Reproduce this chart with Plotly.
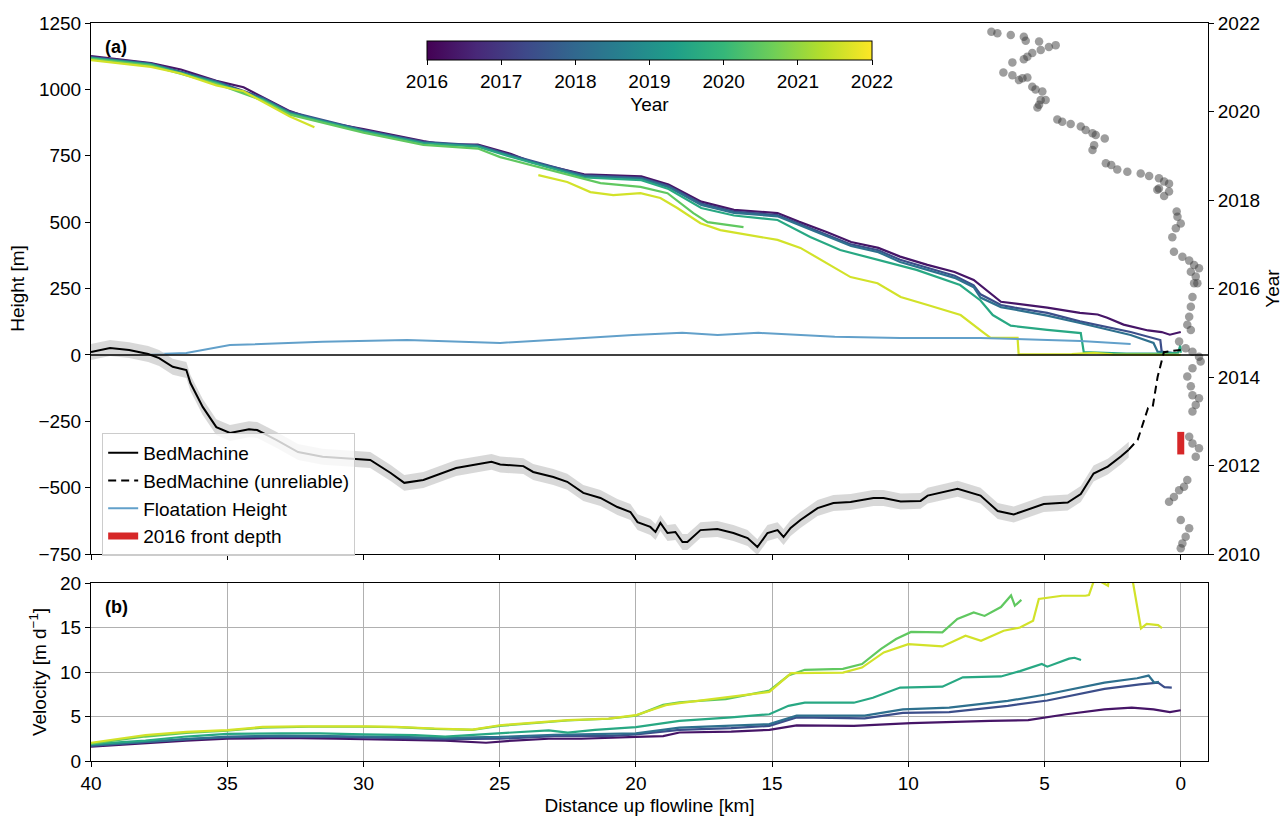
import numpy as np
import plotly.graph_objects as go
from plotly.colors import sample_colorscale

FONT = "Liberation Sans, Arial, sans-serif"
FS = 19

# ---------------- data ----------------
line_years = [2016.35, 2017.45, 2018.2, 2019.6, 2020.5, 2021.6]

# surface height profiles (distance km, height m)
h2016_x = [40.0, 37.8, 36.7, 35.4, 34.4, 33.7, 32.7, 31.7, 30.0, 27.8, 27.1, 25.8, 24.6, 23.8, 21.9, 19.8, 18.8, 17.6, 16.4, 14.8, 14.0, 13.0, 12.1, 11.1, 10.3, 9.3, 8.3, 7.6, 7.1, 6.6, 4.9, 3.7, 3.05, 2.7, 2.1, 1.6, 1.2, 0.7, 0.4, 0.0]
h2016_y = [1125, 1099, 1075, 1032, 1008, 972, 918, 882, 850, 805, 793, 792, 757, 725, 680, 672, 642, 577, 546, 534, 501, 463, 425, 403, 370, 339, 312, 282, 240, 200, 178, 158, 152, 140, 114, 101, 92, 86, 76, 86]

h2017_x = [40.0, 37.8, 35.4, 33.7, 32.7, 30.0, 27.8, 25.8, 24.6, 21.9, 19.8, 18.8, 17.6, 16.4, 14.8, 14.0, 13.0, 12.1, 11.1, 10.3, 9.3, 8.3, 7.6, 7.35, 6.6, 6.1, 4.9, 3.7, 1.84, 0.75, 0.7, 0.3]
h2017_y = [1122, 1097, 1030, 968, 915, 847, 802, 789, 753, 676, 667, 636, 570, 540, 527, 494, 455, 416, 394, 358, 328, 298, 262, 228, 188, 178, 158, 126, 86, 56, 12, 6]

h2018_x = [40.0, 37.8, 35.4, 33.7, 32.7, 30.0, 27.8, 25.8, 24.6, 21.9, 19.8, 18.8, 17.6, 16.4, 14.8, 14.0, 13.0, 12.1, 11.1, 10.3, 9.3, 8.3, 7.6, 7.35, 6.6, 6.1, 4.9, 3.7, 1.84, 1.0, 0.85, 0.3]
h2018_y = [1120, 1095, 1028, 965, 912, 845, 800, 787, 750, 673, 664, 632, 565, 535, 522, 488, 448, 410, 387, 350, 320, 290, 255, 216, 180, 170, 148, 120, 75, 45, 12, 8]

h2019_x = [40.0, 37.8, 35.4, 33.7, 32.7, 30.0, 27.8, 25.8, 24.6, 21.9, 19.8, 18.8, 17.6, 16.4, 14.8, 13.6, 12.5, 10.8, 9.7, 8.1, 7.35, 6.9, 6.24, 4.9, 4.15, 3.67, 3.56, 2.0, 0.5, 0.1, 0.02, 0.0]
h2019_y = [1118, 1093, 1025, 962, 909, 842, 797, 784, 746, 668, 658, 625, 553, 525, 508, 444, 395, 350, 320, 263, 205, 150, 110, 94, 86, 82, 10, 5, 6, 8, 35, 8]

h2020_x = [40.0, 37.8, 35.4, 33.7, 32.7, 30.0, 27.8, 25.8, 24.98, 21.3, 19.83, 18.84, 17.89, 17.37, 16.05]
h2020_y = [1115, 1090, 1021, 958, 905, 837, 791, 777, 745, 647, 633, 609, 534, 500, 481]

h2021_x = [40.0, 37.8, 36.7, 35.4, 34.4, 33.7, 32.7, 31.8, None, 23.58, 22.52, 21.67, 20.83, 19.83, 19.10, 18.48, 17.63, 16.9, 14.8, 13.96, 12.75, 12.12, 11.13, 10.28, 9.29, 8.08, 7.24, 6.98, 5.99, 5.95, 4.0, 3.2, 2.5, 1.0, 0.0]
h2021_y = [1110, 1085, 1060, 1015, 993, 955, 898, 857, None, 677, 651, 613, 602, 609, 591, 553, 496, 470, 433, 403, 331, 293, 270, 218, 188, 150, 84, 64, 64, 2, 3, 8, 2, 1, 0]

# floatation height
flot_x = [37.8, 36.5, 34.9, 32.7, 31.5, 28.4, 25.3, 24.98, 22.5, 20.1, 18.3, 17.0, 15.5, 14.0, 12.7, 10.3, 7.35, 4.89, 3.67, 1.84]
flot_y = [2, 7, 37, 45, 49, 56, 45, 45, 60, 75, 83, 75, 83, 75, 68, 64, 64, 56, 52, 41]

# BedMachine bed elevation
bed_x = [40.0, 39.3, 38.6, 37.9, 37.5, 37.0, 36.5, 36.35, 35.9, 35.4, 34.9, 34.2, 33.9, 33.2, 32.4, 31.5, 29.75, 29.0, 28.5, 27.8, 26.6, 25.3, 24.98, 24.13, 23.77, 23.03, 22.52, 21.93, 21.30, 20.68, 20.20, 19.94, 19.47, 19.28, 19.10, 18.84, 18.55, 18.29, 18.11, 17.63, 17.01, 16.42, 15.90, 15.54, 15.17, 14.80, 14.58, 14.32, 13.96, 13.33, 12.75, 12.12, 11.28, 10.91, 10.28, 9.55, 9.29, 8.19, 7.35, 6.72, 6.13, 5.40, 5.03, 4.15, 3.67, 3.20, 2.68, 2.20, 1.91]
bed_y = [11, 26, 18, 3, -12, -45, -57, -106, -196, -272, -294, -280, -283, -320, -366, -384, -396, -445, -482, -471, -426, -403, -413, -419, -441, -460, -478, -520, -539, -573, -592, -630, -648, -667, -633, -671, -667, -705, -705, -660, -656, -671, -690, -724, -671, -660, -686, -652, -622, -577, -558, -554, -539, -539, -552, -550, -530, -504, -530, -588, -601, -575, -562, -556, -524, -447, -421, -383, -357]
bed_unc = 30

bed_unrel_x = [1.91, 1.58, 1.2, 1.03, 0.85, 0.62, 0.3, 0.0]
bed_unrel_y = [-357, -320, -200, -196, -83, 10, 15, 18]

front2016_x = [0.0, 0.0]
front2016_y = [-290, -375]

# terminus position through time (distance km, year)
front_dist = [6.95, 6.73, 6.24, 5.76, 5.69, 5.20, 5.14, 4.84, 4.59, 5.45, 5.63, 5.76, 6.18, 6.51, 6.18, 5.94, 5.81, 5.63, 5.45, 5.33, 5.08, 5.14, 4.96, 5.20, 5.26,
              4.53, 4.35, 4.04, 3.67, 3.49, 3.24, 3.12, 2.79, 3.18, 3.24, 2.75, 2.55, 2.33, 1.96, 1.47, 1.16, 0.80, 0.61, 0.43, 0.80, 0.86, 0.43, 0.61,
              0.15, 0.12, 0.0, 0.18, 0.31, 0.25, -0.06, -0.31, -0.49, -0.67, -0.37, -0.55, -0.61,
              -0.49, -0.43, -0.37, -0.31, -0.24, -0.37, 0.06, -0.18, -0.43, -0.67, -0.73, -0.43, -0.24, -0.37, -0.43, -0.67, -0.55, -0.43,
              -0.31, -0.43, -0.67, -0.55, -0.24, -0.12, 0.06, 0.25, 0.43, 0.0, -0.31, -0.18, -0.06, 0.0]
front_year = [2021.80, 2021.77, 2021.73, 2021.69, 2021.60, 2021.58, 2021.39, 2021.46, 2021.50, 2021.32, 2021.24, 2021.18, 2021.11, 2020.88, 2020.82, 2020.71, 2020.75, 2020.77, 2020.56, 2020.50, 2020.45, 2020.26, 2020.26, 2020.15, 2020.09,
              2019.82, 2019.77, 2019.72, 2019.66, 2019.58, 2019.51, 2019.47, 2019.39, 2019.24, 2019.13, 2018.83, 2018.79, 2018.69, 2018.64, 2018.60, 2018.54, 2018.49, 2018.42, 2018.37, 2018.26, 2018.23, 2018.19, 2018.09,
              2017.74, 2017.62, 2017.47, 2017.36, 2017.16, 2016.83, 2016.72, 2016.63, 2016.53, 2016.46, 2016.38, 2016.27, 2016.12,
              2016.12, 2015.81, 2015.59, 2015.36, 2015.18, 2015.06, 2014.80, 2014.65, 2014.57, 2014.46, 2014.35, 2014.20, 2014.01, 2013.79, 2013.59, 2013.52, 2013.37, 2013.22,
              2012.65, 2012.50, 2012.39, 2012.20, 2011.67, 2011.52, 2011.44, 2011.29, 2011.18, 2010.77, 2010.58, 2010.39, 2010.24, 2010.13]

# velocity profiles (distance km, m/d)
v2016_x = [40.0, 38.0, 36.5, 35.0, 33.0, 31.0, 28.8, 27.0, 25.5, 24.5, 23.2, 22.0, 20.0, 19.0, 18.4, 16.5, 15.1, 14.1, 12.0, 9.9, 7.0, 5.6, 4.2, 2.8, 1.8, 1.0, 0.4, 0.0]
v2016_y = [1.6, 2.0, 2.3, 2.5, 2.6, 2.5, 2.35, 2.3, 2.05, 2.3, 2.5, 2.5, 2.7, 2.8, 3.2, 3.3, 3.5, 4.0, 3.95, 4.25, 4.5, 4.6, 5.25, 5.8, 6.0, 5.8, 5.5, 5.7]

v2017_x = [40.0, 38.0, 36.5, 35.0, 33.0, 31.0, 28.8, 27.0, 25.0, 23.0, 21.0, 20.0, 18.4, 16.5, 15.1, 14.1, 11.6, 10.2, 8.5, 6.35, 4.9, 2.8, 1.5, 0.83, 0.6, 0.33]
v2017_y = [1.7, 2.1, 2.45, 2.65, 2.75, 2.7, 2.55, 2.45, 2.5, 2.8, 2.8, 3.0, 3.5, 3.7, 3.95, 4.9, 4.8, 5.4, 5.5, 6.2, 6.8, 8.1, 8.6, 8.8, 8.3, 8.25]

v2018_x = [40.0, 38.0, 36.5, 35.0, 33.0, 31.0, 28.8, 27.0, 25.0, 23.0, 21.0, 20.0, 18.4, 16.5, 15.1, 14.1, 11.6, 10.2, 8.5, 6.35, 4.9, 2.8, 1.6, 1.18, 0.97, 0.8]
v2018_y = [1.75, 2.15, 2.5, 2.75, 2.85, 2.8, 2.7, 2.6, 2.7, 2.95, 3.0, 3.1, 3.75, 3.95, 4.15, 5.1, 5.1, 5.8, 6.0, 6.75, 7.5, 8.8, 9.3, 9.6, 8.8, 8.9]

v2019_x = [40.0, 38.0, 36.5, 35.0, 33.0, 31.6, 30.0, 28.1, 27.0, 25.0, 23.2, 22.5, 21.5, 20.0, 18.4, 16.5, 15.1, 14.4, 13.8, 12.0, 11.3, 10.3, 8.75, 8.0, 6.6, 5.9, 5.1, 4.9, 4.1, 3.9, 3.66]
v2019_y = [1.9, 2.3, 2.75, 3.05, 3.1, 3.1, 3.0, 2.9, 2.75, 3.1, 3.45, 3.2, 3.5, 3.8, 4.5, 4.9, 5.25, 6.2, 6.55, 6.55, 7.1, 8.25, 8.35, 9.4, 9.5, 10.1, 10.9, 10.6, 11.5, 11.6, 11.35]

v2020_x = [40.0, 38.0, 36.5, 35.0, 33.7, 32.0, 30.0, 28.8, 27.4, 26.0, 25.0, 23.9, 22.5, 21.0, 20.0, 19.0, 18.4, 16.7, 15.1, 14.4, 13.8, 12.4, 11.7, 11.0, 10.45, 9.9, 8.75, 8.2, 7.6, 7.2, 6.6, 6.23, 6.09, 5.85]
v2020_y = [1.95, 2.75, 3.15, 3.4, 3.75, 3.85, 3.85, 3.8, 3.6, 3.5, 3.95, 4.25, 4.55, 4.75, 5.1, 6.3, 6.6, 6.95, 7.9, 9.6, 10.25, 10.35, 10.9, 12.6, 13.7, 14.5, 14.45, 15.95, 16.7, 16.3, 17.3, 18.6, 17.45, 18.1]

v2021_x = [40.0, 38.0, 36.5, 35.0, 33.7, 32.3, 29.9, 28.8, 27.4, 26.0, 25.0, 23.9, 22.5, 21.0, 20.0, 18.9, 18.4, 15.1, 14.3, 12.4, 11.7, 10.9, 10.0, 8.75, 7.9, 7.33, 6.5, 5.9, 5.42, 5.21, 4.36, 3.5, 3.37, 3.16, 2.9, 2.67, 2.6, 1.9, 1.75, 1.46, 1.25, 0.83, 0.69]
v2021_y = [2.05, 2.9, 3.27, 3.46, 3.83, 3.9, 3.9, 3.83, 3.65, 3.53, 4.02, 4.29, 4.59, 4.77, 5.15, 6.28, 6.5, 7.77, 9.87, 9.94, 10.5, 12.2, 13.13, 12.87, 14.07, 13.5, 14.63, 15.0, 15.76, 18.2, 18.57, 18.57, 18.65, 20.5, 20.1, 19.7, 21.5, 22.0, 20.0, 14.9, 15.4, 15.27, 14.93]

x_ticks = [40, 35, 30, 25, 20, 15, 10, 5, 0]
h_ticks = [-750, -500, -250, 0, 250, 500, 750, 1000, 1250]
yr_ticks = [2010, 2012, 2014, 2016, 2018, 2020, 2022]
v_ticks = [0, 5, 10, 15, 20]
cb_ticks = [2016, 2017, 2018, 2019, 2020, 2021, 2022]

# ---------------- figure ----------------
colors = sample_colorscale("Viridis", [(y - 2016) / 6 for y in line_years])

fig = go.Figure()

height_sets = [(h2016_x, h2016_y), (h2017_x, h2017_y), (h2018_x, h2018_y),
               (h2019_x, h2019_y), (h2020_x, h2020_y), (h2021_x, h2021_y)]
vel_sets = [(v2016_x, v2016_y), (v2017_x, v2017_y), (v2018_x, v2018_y),
            (v2019_x, v2019_y), (v2020_x, v2020_y), (v2021_x, v2021_y)]

for (hx, hy), c in zip(height_sets, colors):
    fig.add_trace(go.Scatter(x=hx, y=hy, mode="lines", line=dict(color=c, width=2.2),
                             showlegend=False, hoverinfo="skip", xaxis="x", yaxis="y"))

fig.add_trace(go.Scatter(x=flot_x, y=flot_y, mode="lines", name="Floatation Height",
                         line=dict(color="#62a0ca", width=2), legendrank=3,
                         xaxis="x", yaxis="y"))

bed_hi = [b + bed_unc for b in bed_y]
bed_lo = [b - bed_unc for b in bed_y]
fig.add_trace(go.Scatter(x=bed_x + bed_x[::-1], y=bed_hi + bed_lo[::-1], mode="lines",
                         fill="toself", fillcolor="rgba(200,200,200,0.7)",
                         line=dict(width=0, color="rgba(0,0,0,0)"),
                         showlegend=False, hoverinfo="skip", xaxis="x", yaxis="y"))
fig.add_trace(go.Scatter(x=bed_x, y=bed_y, mode="lines", name="BedMachine",
                         line=dict(color="black", width=2), legendrank=1,
                         xaxis="x", yaxis="y"))
fig.add_trace(go.Scatter(x=bed_unrel_x, y=bed_unrel_y, mode="lines",
                         name="BedMachine (unreliable)",
                         line=dict(color="black", width=2, dash="8px,5px"), legendrank=2,
                         xaxis="x", yaxis="y"))
fig.add_trace(go.Scatter(x=front2016_x, y=front2016_y, mode="lines", name="2016 front depth",
                         line=dict(color="#d62728", width=7), legendrank=4,
                         xaxis="x", yaxis="y"))

# colorbar carrier (outside visible range)
fig.add_trace(go.Scatter(x=[20], y=[-5000], mode="markers", showlegend=False, hoverinfo="skip",
                         marker=dict(size=1, color=[2016], colorscale="Viridis", cmin=2016, cmax=2022,
                                     showscale=True,
                                     colorbar=dict(orientation="h", x=(649.5 - 91) / 1117, xanchor="center",
                                                   y=(761 - 41) / 738, yanchor="top",
                                                   len=445, lenmode="pixels",
                                                   thickness=19, thicknessmode="pixels",
                                                   outlinewidth=1, outlinecolor="black",
                                                   tickvals=cb_ticks, ticks="outside", ticklen=5,
                                                   tickcolor="black",
                                                   tickfont=dict(size=FS, color="black", family=FONT),
                                                   title=dict(text="Year", side="bottom",
                                                              font=dict(size=FS, color="black", family=FONT)),
                                                   xpad=0, ypad=0)),
                         xaxis="x", yaxis="y"))

# terminus positions on twin axis
fig.add_trace(go.Scatter(x=front_dist, y=front_year, mode="markers", showlegend=False,
                         marker=dict(size=8.5, color="rgba(60,60,60,0.5)", line=dict(width=0)),
                         hoverinfo="skip", xaxis="x", yaxis="y3"))

for (vx, vy), c in zip(vel_sets, colors):
    fig.add_trace(go.Scatter(x=vx, y=vy, mode="lines", line=dict(color=c, width=2.2),
                             showlegend=False, hoverinfo="skip", xaxis="x2", yaxis="y2"))

top_lo = (761 - 554) / 738
bot_hi = (761 - 583) / 738

axis_common = dict(showline=True, linecolor="black", linewidth=1, ticks="outside", ticklen=5,
                   tickwidth=1, tickcolor="black", zeroline=False, automargin=False,
                   tickfont=dict(size=FS, color="black", family=FONT))

minus = lambda v: str(v).replace("-", "\u2212")

fig.update_layout(
    width=1283, height=816,
    margin=dict(l=91, r=75, t=23, b=55, autoexpand=False),
    paper_bgcolor="white", plot_bgcolor="white",
    font=dict(family=FONT, size=FS, color="black"),
    xaxis=dict(domain=[0, 1], anchor="y", range=[40, -1], tickvals=x_ticks, showticklabels=False,
               mirror=True, showgrid=False, **axis_common),
    yaxis=dict(domain=[top_lo, 1], anchor="x", range=[-750, 1250], tickvals=h_ticks,
               ticktext=[minus(v) for v in h_ticks], showgrid=False,
               title=dict(text="Height [m]", standoff=8, font=dict(size=FS)), **axis_common),
    yaxis3=dict(overlaying="y", side="right", anchor="x", range=[2010, 2022], tickvals=yr_ticks,
                showgrid=False, title=dict(text="Year", standoff=6, font=dict(size=FS)), **axis_common),
    xaxis2=dict(domain=[0, 1], anchor="y2", matches="x", range=[40, -1], tickvals=x_ticks,
                mirror=True, showgrid=True, gridcolor="#b0b0b0", gridwidth=1,
                title=dict(text="Distance up flowline [km]", standoff=6, font=dict(size=FS)), **axis_common),
    yaxis2=dict(domain=[0, bot_hi], anchor="x2", range=[0, 20], tickvals=v_ticks, mirror=True,
                showgrid=True, gridcolor="#b0b0b0", gridwidth=1,
                title=dict(text="Velocity [m d<sup>\u22121</sup>]", standoff=8, font=dict(size=FS)),
                **axis_common),
    legend=dict(x=0.01, y=(761 - 433) / 738, xanchor="left", yanchor="top",
                bgcolor="rgba(255,255,255,0.8)", bordercolor="#cccccc", borderwidth=1,
                font=dict(size=FS, family=FONT, color="black"), tracegroupgap=0),
    shapes=[dict(type="line", xref="x domain", yref="y", x0=0, x1=1, y0=0, y1=0,
                 line=dict(color="black", width=1.5))],
    annotations=[
        dict(text="<b>(a)</b>", xref="x domain", yref="y domain", x=0.011, y=1 - 24 / 531,
             xanchor="left", yanchor="middle", showarrow=False, font=dict(size=FS - 1)),
        dict(text="<b>(b)</b>", xref="x2 domain", yref="y2 domain", x=0.011, y=1 - 24 / 178,
             xanchor="left", yanchor="middle", showarrow=False, font=dict(size=FS - 1)),
    ],
)

fig.write_html("out.html", config={"displayModeBar": False},
               post_script="document.body.style.margin='0px';document.body.style.overflow='hidden';")
